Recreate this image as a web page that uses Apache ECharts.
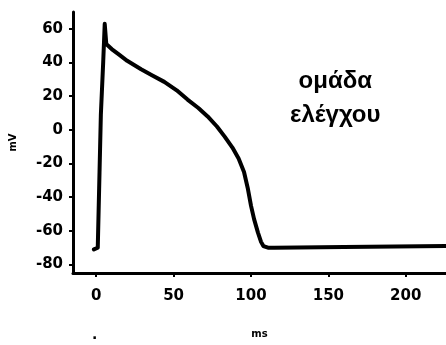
<!DOCTYPE html>
<html><head><meta charset="utf-8">
<script src="https://cdn.jsdelivr.net/npm/echarts@6/dist/echarts.min.js"></script>
<style>html,body{margin:0;padding:0;background:#fff}#c{width:446px;height:345px}</style>
</head><body><div id="c"></div>
<script>
const timeMs = [-1.5, 1, 3, 4.5, 5.5, 6.5, 10, 15, 20, 29, 36, 44, 52, 59, 66, 72, 78, 83, 88, 92, 95.5, 98, 100, 102, 104.5, 106.5, 108, 111, 115, 160, 226];
const voltageMv = [-71, -70, 9, 40, 63, 51, 48, 44.5, 41, 36, 32.5, 28.5, 23.5, 18, 13, 8, 2, -4, -10.5, -17, -25, -35, -45, -53, -61, -66.5, -69, -70, -70, -69.5, -69];
const xTicks = [0, 50, 100, 150, 200];
const yTicks = [-80, -60, -40, -20, 0, 20, 40, 60];
const legendLines = ['ομάδα', 'ελέγχου'];

const chart = echarts.init(document.getElementById('c'), null, {renderer: 'canvas'});
const labelFont = {color: '#000', fontWeight: 'bold', fontSize: 15, fontFamily: 'DejaVu Sans'};
chart.setOption({
  animation: false,
  backgroundColor: '#fff',
  grid: {left: 72, right: 0, top: 12, bottom: 72},
  xAxis: {
    type: 'value', min: -15, max: 226,
    name: 'ms', nameLocation: 'middle', nameGap: 56,
    nameTextStyle: {color: '#000', fontWeight: 'bold', fontSize: 10, fontFamily: 'DejaVu Sans'},
    axisLine: {show: true, onZero: false, lineStyle: {color: '#000', width: 3}},
    axisTick: {show: true, customValues: xTicks, length: 4, lineStyle: {color: '#000', width: 2}},
    axisLabel: Object.assign({customValues: xTicks, margin: 16}, labelFont),
    splitLine: {show: false}
  },
  yAxis: {
    type: 'value', min: -85, max: 70,
    name: 'mV', nameLocation: 'middle', nameGap: 55,
    nameTextStyle: {color: '#000', fontWeight: 'bold', fontSize: 10, fontFamily: 'DejaVu Sans'},
    axisLine: {show: true, onZero: false, lineStyle: {color: '#000', width: 3}},
    axisTick: {show: true, customValues: yTicks, length: 4, lineStyle: {color: '#000', width: 2}},
    axisLabel: Object.assign({customValues: yTicks, margin: 10}, labelFont),
    splitLine: {show: false}
  },
  series: [{
    type: 'line',
    data: timeMs.map((t, i) => [t, voltageMv[i]]),
    showSymbol: false, smooth: false,
    lineStyle: {color: '#000', width: 4, cap: 'round', join: 'round'}
  }],
  graphic: [
    {type: 'text', left: 290, top: 64, style: {text: legendLines.join('\n'), fill: '#000', font: 'bold 24px "Liberation Sans"', lineHeight: 34, textAlign: 'center', x: 45}},
    {type: 'text', left: 92, top: 328, style: {text: '.', fill: '#000', font: 'bold 14px "DejaVu Sans"'}}
  ]
});
</script></body></html>
